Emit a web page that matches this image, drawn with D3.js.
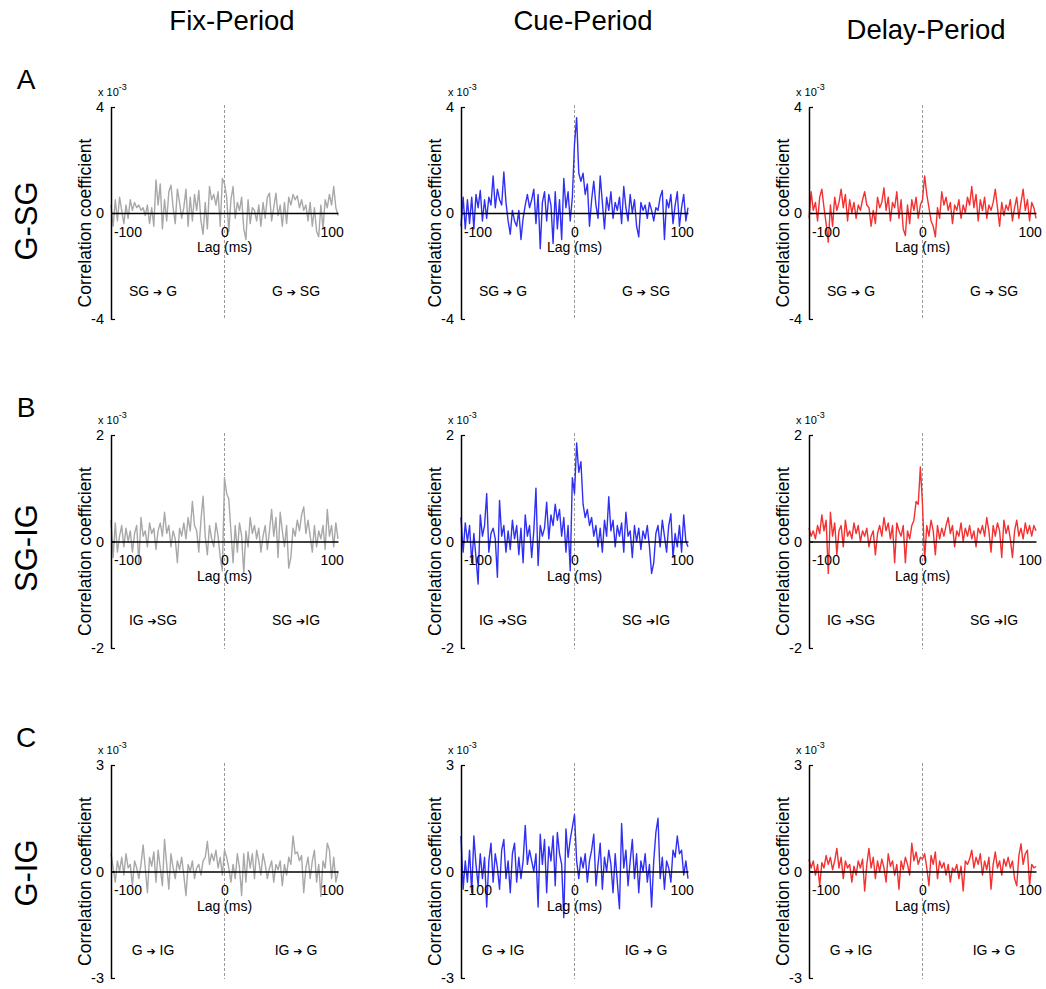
<!DOCTYPE html>
<html>
<head>
<meta charset="utf-8">
<script src="https://cdn.jsdelivr.net/npm/d3@7"></script>
<style>
  body { margin: 0; background: #fff; }
  svg { font-family: "Liberation Sans", Arial, sans-serif; }
</style>
</head>
<body>
<svg id="chart" width="1046" height="989"></svg>
<script>
// lags run from -106 ms to +106 ms in 2 ms steps
const lagStart = -106
const lagStep = 2

const periods = ['Fix-Period', 'Cue-Period', 'Delay-Period']
const pairs = ['G-SG', 'SG-IG', 'G-IG']
const rowLetters = ['A', 'B', 'C']
const yMax = [4, 2, 3]
const xTicks = [-100, 0, 100]
const dirLeft = [['SG', 'G'], ['IG ', 'SG'], ['G', 'IG']]
const dirRight = [['G', 'SG'], ['SG', 'IG'], ['IG', 'G']]

// values in units of 1e-3
const fixGSG = [0.3, -0.5, 0.5, -0.3, 0.6, 0.1, -0.4, 0.3, -0.2, 0.5,
  0.1, 0.4, 0.2, 0.3, 0.1, 0.2, -0.1, 0.3, -0.4, 0.2,
  -0.5, 1.25, 0.3, 1.1, -0.6, 0.5, -0.3, 0.8, 1.05, 0.2,
  -0.4, 0.9, 0.4, -0.2, 0.2, 0.9, -0.5, 0.6, -0.3, 0.7,
  0.1, 0.85, -0.3, -0.8, 0.4, -0.6, 1.0, 0.5, 0.7, 0.3,
  0.8, -0.5, 1.3, 1.1, 0.6, -0.7, 0.5, 1.0, -0.2, 0.4,
  0.1, 0.6, -0.6, -1.0, 0.5, -0.4, 0.2, 0.1, -0.3, 0.3,
  -0.5, 0.4, -0.2, 0.6, 0.75, -0.3, 0.2, 0.75, -0.1, 0.3,
  -0.5, 0.4, -0.4, 0.6, 0.3, 0.7, 0.5, 0.65, 0.2, 0.5,
  0.1, 0.3, -0.3, 0.4, -0.5, 0.2, -0.7, -0.9, 0.3, -0.6,
  0.5, 0.2, 0.7, 0.3, 1.0, 0.2, -0.1]
const cueGSG = [-0.5, 0.6, -0.6, 0.5, -0.4, 0.6, -0.6, 0.7, 0.2, 0.85,
  -0.3, 0.5, -0.2, 0.6, 0.3, 1.4, 0.2, 0.9, 0.5, 0.3,
  1.55, 0.4, -0.3, -0.8, 0.1, -0.3, -0.5, 0.1, -1.0, -0.2,
  0.3, 0.7, 0.2, 0.5, 0.9, -0.4, 0.7, -1.35, 0.4, 0.8,
  -0.3, 0.7, 0.3, -1.15, 0.8, -0.6, 0.5, -1.0, 1.3, 0.2,
  0.8, -0.3, 0.6, 2.6, 3.6, 1.5, 1.2, 1.5, 0.7, 1.1,
  -0.5, 0.5, 1.2, 0.3, -0.2, 1.4, 0.4, -0.6, 0.6, 0.1,
  0.8, -0.2, 0.4, 0.1, 0.6, -0.4, 1.0, 0.2, -0.3, 0.7,
  0.0, 0.5, -0.5, -0.9, 0.4, 0.1, 0.3, -0.2, 0.4, 0.1,
  -0.3, 0.2, 0.1, 0.6, 0.85, -1.0, 0.5, 0.2, 0.7, -0.4,
  0.3, 0.8, -0.5, 0.2, 0.7, -0.3, 0.2]
const delayGSG = [-0.2, 0.8, 0.1, 0.4, -0.3, 0.6, 0.9, 0.2, -0.4, -1.1,
  0.3, -0.5, 0.6, 0.1, 0.4, 0.9, 0.2, 0.7, -0.3, 0.5,
  0.0, 0.4, -0.2, 0.3, 0.1, 0.5, 0.8, 0.3, 0.2, -0.5,
  0.1, -0.4, 0.6, 0.2, 0.4, 0.95, 0.1, 0.6, -0.3, 0.4,
  0.2, 0.8, -0.2, 0.5, -0.6, -0.85, 0.3, -0.4, 0.5, 0.1,
  0.6, -0.2, 0.3, 0.5, 1.4, 0.7, 0.2, -0.3, -0.5, -0.9,
  0.2, -0.2, 0.8, 0.3, 0.6, 0.1, 0.4, -0.4, 0.3, 0.1,
  0.5, -0.2, 0.3, 0.0, 0.6, 0.3, 1.0, 0.2, 0.7, -0.3,
  0.5, 0.1, 0.6, -0.2, 0.3, 0.1, 0.4, 0.9, 0.2, -0.5,
  0.4, -0.1, 0.3, 0.1, 0.5, -0.3, 0.2, 0.6, -0.2, 0.4,
  0.9, 0.1, 0.5, -0.3, 0.4, 0.2, -0.2]

const fixSGIG = [0.4, -0.3, 0.35, -0.2, 0.1, 0.3, -0.1, 0.25, 0.0, 0.2,
  -0.2, 0.15, 0.3, -0.4, 0.45, 0.1, 0.2, -0.1, 0.35, 0.15,
  0.25, -0.15, 0.2, 0.35, 0.1, 0.55, 0.15, 0.3, -0.1, 0.2,
  0.05, -0.4, 0.25, 0.1, 0.35, 0.05, 0.45, 0.2, 0.75, 0.3,
  0.2, -0.2, 0.4, 0.85, 0.1, -0.25, 0.3, 0.05, -0.1, 0.35,
  0.1, -0.3, -0.55, 1.2, 0.9, 0.8, 0.2, -0.4, 0.3, -0.2,
  0.35, 0.1, -0.6, 0.2, -0.1, 0.45, 0.15, 0.3, 0.05, 0.25,
  -0.2, 0.1, 0.3, -0.15, 0.2, 0.6, 0.1, 0.45, -0.3, 0.55,
  0.2, -0.1, 0.3, -0.5, -0.3, 0.25, 0.1, 0.4, 0.2, 0.5,
  0.65, 0.15, 0.4, 0.1, -0.2, 0.3, -0.1, 0.2, 0.05, 0.3,
  -0.15, 0.6, 0.1, 0.3, -0.1, 0.35, 0.05]
const cueSGIG = [0.45, -0.2, 0.35, 0.0, 0.3, -0.4, 0.15, -0.3, -0.8, 0.5,
  0.1, 0.3, 0.9, -0.2, 0.15, 0.25, 0.05, -0.67, 0.77, 0.1,
  0.3, -0.2, 0.2, -0.15, 0.4, 0.05, 0.3, -0.25, 0.25, -0.4,
  0.5, 0.1, 0.3, -0.3, 0.2, 1.0, -0.45, 0.3, 0.1, 0.25,
  0.74, 0.05, 0.5, 0.3, 0.7, 0.4, 0.6, 0.1, 0.45, -0.2,
  0.3, -0.55, 1.2, 0.9, 1.85, 1.3, 1.5, 0.7, 0.45, 0.6,
  0.3, 0.45, 0.1, 0.3, -0.1, 0.25, -0.2, 0.4, 0.1, 0.84,
  0.2, 0.4, -0.1, 0.3, 0.1, 0.35, -0.2, 0.55, 0.1, 0.2,
  -0.3, 0.3, 0.0, 0.25, -0.15, 0.2, 0.05, 0.3, -0.1, -0.6,
  -0.4, 0.15, 0.3, -0.1, 0.4, 0.1, -0.2, 0.3, 0.52, -0.3,
  0.15, -0.1, 0.3, -0.2, 0.5, 0.0, -0.1]
const delaySGIG = [0.25, 0.1, 0.2, 0.05, 0.3, 0.15, 0.5, 0.2, 0.4, -0.6,
  0.55, 0.1, 0.35, -0.25, 0.2, 0.3, -0.1, 0.4, 0.1, 0.2,
  0.05, 0.35, 0.15, 0.3, 0.0, 0.2, 0.1, 0.25, -0.1, 0.1,
  0.2, -0.25, 0.15, 0.3, 0.1, 0.45, 0.2, 0.35, 0.05, 0.3,
  -0.4, 0.35, 0.2, 0.1, 0.3, -0.4, 0.2, 0.05, 0.3, 0.4,
  0.75, 0.7, 1.4, 0.7, -0.35, 0.3, 0.1, 0.4, 0.2, -0.25,
  0.3, 0.05, 0.25, 0.1, 0.3, 0.45, 0.15, 0.3, -0.1, 0.2,
  0.1, 0.35, 0.0, 0.25, 0.1, 0.3, 0.05, 0.2, -0.1, 0.25,
  0.15, 0.3, 0.1, 0.45, 0.2, -0.2, 0.3, 0.1, 0.35, 0.2,
  -0.3, 0.4, 0.15, 0.3, 0.05, -0.3, 0.2, 0.4, 0.1, 0.25,
  0.05, 0.35, 0.15, 0.3, 0.1, 0.3, 0.2]

const fixGIG = [0.5, 0.1, -0.3, 0.3, 0.0, 0.4, -0.1, 0.5, 0.1, 0.2,
  -0.4, 0.3, 0.1, -0.2, 0.2, 0.75, 0.1, -0.6, 0.4, 0.15,
  0.55, -0.3, 0.6, 0.1, -0.4, 0.9, 0.2, -0.5, 0.5, 0.1,
  -0.2, 0.3, 0.05, 0.4, -0.1, -0.68, 0.2, 0.0, 0.3, -0.2,
  0.1, 0.2, -0.1, 0.3, 0.4, 0.85, 0.2, 0.5, 0.3, 0.6,
  0.1, 0.4, -0.1, 0.6, 0.4, 0.1, -0.3, 0.2, -0.2, 0.5,
  0.1, -0.68, 0.5, -0.3, 0.55, 0.1, 0.5, -0.2, 0.6, 0.3,
  -0.1, 0.5, 0.2, -0.2, 0.1, 0.3, -0.3, 0.2, 0.05, 0.3,
  -0.4, 0.2, -0.1, 0.4, 0.2, 1.0, 0.5, 0.55, 0.3, 0.45,
  -0.6, 0.1, 0.4, -0.2, 0.3, 0.6, -0.3, 0.2, -0.7, 0.3,
  0.1, 0.8, 0.6, -0.2, 0.4, -0.3, 0.0]
const cueGIG = [1.0, -0.5, 0.3, -0.3, 0.6, -0.6, 1.0, 0.2, -0.4, 0.5,
  -0.2, 0.4, -1.0, 0.3, 0.8, -0.3, 0.5, 0.1, -0.5, 0.6,
  0.9, -0.2, 0.3, -0.6, 0.5, 0.8, -0.3, 0.4, -0.2, 0.3,
  1.3, 0.2, 0.6, 0.3, 0.0, 0.5, -1.0, 1.05, 0.2, 0.9,
  -0.6, 0.7, 0.3, 1.0, -0.4, 1.1, 0.5, 0.2, -1.3, 1.2,
  0.4, 0.9, 1.25, 1.6, 0.3, -0.2, 0.4, 0.1, 0.5, -0.3,
  0.3, 0.6, 1.05, -0.4, 0.2, 0.8, -0.5, 0.4, 0.0, 0.6,
  0.2, -0.6, 0.5, -0.3, -1.05, 1.35, 0.1, 0.6, -0.4, 0.3,
  0.9, -0.2, 0.5, -0.6, 0.3, 0.0, 0.5, -0.3, 0.2, -1.0,
  0.3, 1.1, 1.5, -0.2, 0.4, -0.5, 0.3, 0.1, -0.3, 0.6,
  0.4, 1.0, 0.5, 0.6, -0.1, 0.3, -0.2]
const delayGIG = [0.35, 0.1, 0.3, -0.1, 0.2, -0.4, 0.25, 0.1, 0.45, 0.2,
  0.4, 0.05, 0.3, 0.65, 0.1, 0.4, -0.2, 0.3, 0.1, 0.2,
  -0.3, 0.15, -0.1, 0.3, 0.1, 0.35, -0.55, 0.2, 0.65, 0.1,
  0.4, -0.2, 0.3, 0.0, 0.35, 0.1, -0.3, 0.5, 0.15, 0.3,
  -0.1, 0.2, -0.5, 0.3, 0.05, 0.4, 0.2, -0.1, 0.8, 0.3,
  0.55, 0.2, 0.4, 0.35, 0.5, 0.1, -0.4, 0.45, 0.2, 0.55,
  -0.2, 0.3, 0.1, 0.25, -0.1, 0.2, -0.3, 0.1, 0.0, 0.2,
  -0.2, 0.15, -0.55, 0.3, 0.2, 0.35, 0.6, 0.1, 0.4, 0.2,
  0.5, -0.1, 0.3, 0.05, 0.4, -0.5, 0.2, 0.55, 0.1, 0.3,
  -0.1, 0.35, 0.15, 0.4, 0.1, 0.3, -0.2, -0.4, 0.45, 0.78,
  0.2, 0.5, 0.6, -0.4, 0.2, 0.1, 0.15]

const series = [
  [fixGSG, cueGSG, delayGSG],
  [fixSGIG, cueSGIG, delaySGIG],
  [fixGIG, cueGIG, delayGIG]
]
const colors = ['#a8a8a8', '#3030f5', '#f53030']

const colX = [111, 461, 809]
const rowTop = [107, 435, 765]
const rowBottom = [319, 648, 978]
const plotW = 227

const svg = d3.select('#chart')

// column titles
const titleX = [232, 583, 926]
const titleY = [30, 30, 39]
svg.selectAll('.title')
  .data(periods)
  .enter()
  .append('text')
  .attr('x', (d, i) => titleX[i])
  .attr('y', (d, i) => titleY[i])
  .attr('text-anchor', 'middle')
  .style('font-size', '27.5px')
  .text(d => d)

// row letters and pair names
const rowMid = [221, 548, 873]
rowLetters.forEach((letter, r) => {
  svg.append('text')
    .attr('x', 26)
    .attr('y', rowTop[r] - 18)
    .attr('text-anchor', 'middle')
    .style('font-size', '28px')
    .text(letter)
  svg.append('text')
    .attr('transform', `translate(37, ${rowMid[r]}) rotate(-90)`)
    .attr('text-anchor', 'middle')
    .style('font-size', '31px')
    .text(pairs[r])
})

function drawPanel (r, c) {
  const values = series[r][c]
  const m = yMax[r]
  const x = d3.scaleLinear()
    .domain([lagStart, -lagStart])
    .range([colX[c], colX[c] + plotW])
  const y = d3.scaleLinear()
    .domain([-m, m])
    .range([rowBottom[r], rowTop[r]])

  const g = svg.append('g')

  // dashed zero-lag line
  g.append('line')
    .attr('x1', x(0)).attr('x2', x(0))
    .attr('y1', rowTop[r] - 2).attr('y2', rowBottom[r] + 1)
    .attr('stroke', '#999')
    .attr('stroke-width', 1)
    .attr('stroke-dasharray', '3,2')

  const line = d3.line()
    .x((d, i) => x(lagStart + i * lagStep))
    .y(d => y(d))

  g.append('path')
    .datum(values)
    .attr('d', line)
    .attr('fill', 'none')
    .attr('stroke', colors[c])
    .attr('stroke-width', 1.4)
    .attr('stroke-linejoin', 'round')

  // x axis along zero
  const xAxis = g.append('g')
    .attr('transform', `translate(0, ${y(0)})`)
    .call(d3.axisBottom(x).tickValues(xTicks).tickSizeInner(0).tickSizeOuter(0).tickPadding(14).tickFormat(d3.format('d')))
  xAxis.select('.domain').attr('stroke', '#000').attr('stroke-width', 1.5)
  xAxis.selectAll('text')
    .style('font-size', '14px')
    .attr('fill', '#000')
    .attr('font-family', null)
    .attr('dx', d => d < 0 ? 10 : 0)
    .text(d => d < 0 ? '-' + Math.abs(d) : d)

  // y axis
  const yAxis = g.append('g')
    .attr('transform', `translate(${colX[c]}, 0)`)
    .call(d3.axisLeft(y).tickValues([-m, 0, m]).tickSizeInner(-4).tickSizeOuter(0).tickPadding(7)
      .tickFormat(d => d < 0 ? '-' + Math.abs(d) : d))
  yAxis.select('.domain').attr('stroke', '#000').attr('stroke-width', 1.5)
  yAxis.selectAll('.tick line').attr('stroke', '#000').attr('stroke-width', 1.2)
  yAxis.selectAll('text').style('font-size', '14.5px').attr('fill', '#000').attr('font-family', null)

  // exponent label
  const ex = g.append('text')
    .attr('x', colX[c] - 13)
    .attr('y', rowTop[r] - 11)
    .style('font-size', '11px')
  ex.append('tspan').text('x 10')
  ex.append('tspan').attr('dy', -6).style('font-size', '9px').text('-3')

  g.append('text')
    .attr('transform', `translate(${colX[c] - 20}, ${y(0) + 10}) rotate(-90)`)
    .attr('text-anchor', 'middle')
    .style('font-size', '17.5px')
    .text('Correlation coefficient')

  g.append('text')
    .attr('x', x(0))
    .attr('y', y(0) + 39)
    .attr('text-anchor', 'middle')
    .style('font-size', '14px')
    .text('Lag (ms)')

  const dirY = y(0) + 83
  const arrow = '\u2794'
  const left = g.append('text')
    .attr('x', colX[c] + 42).attr('y', dirY)
    .attr('text-anchor', 'middle').style('font-size', '14px')
  left.append('tspan').text(dirLeft[r][0] + ' ')
  left.append('tspan').style('font-family', '"DejaVu Sans"').style('font-size', '11px').text(arrow)
  left.append('tspan').text(r === 1 ? dirLeft[r][1] : ' ' + dirLeft[r][1])

  const right = g.append('text')
    .attr('x', colX[c] + 185).attr('y', dirY)
    .attr('text-anchor', 'middle').style('font-size', '14px')
  right.append('tspan').text(dirRight[r][0] + ' ')
  right.append('tspan').style('font-family', '"DejaVu Sans"').style('font-size', '11px').text(arrow)
  right.append('tspan').text(r === 1 ? dirRight[r][1] : ' ' + dirRight[r][1])
}

series.forEach((row, r) => {
  row.forEach((values, c) => {
    console.log(pairs[r], periods[c], values.length)
    drawPanel(r, c)
  })
})
</script>
</body>
</html>
